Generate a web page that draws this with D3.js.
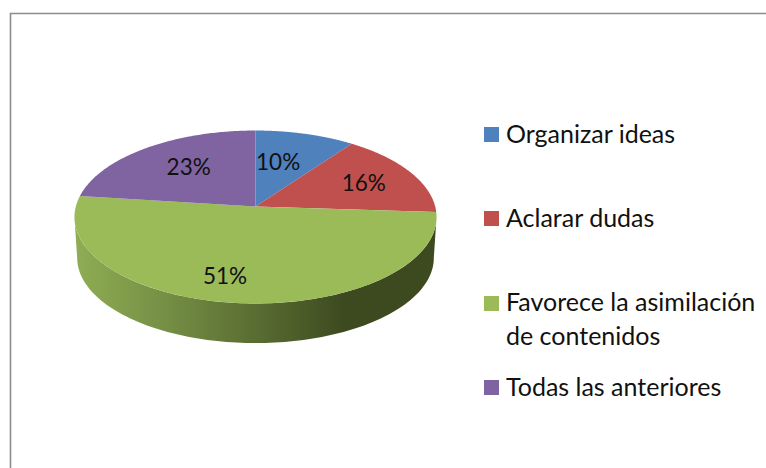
<!DOCTYPE html>
<html>
<head>
<meta charset="utf-8">
<script src="https://cdnjs.cloudflare.com/ajax/libs/d3/7.8.5/d3.min.js"></script>
<style>html,body{margin:0;padding:0;background:#fff}svg{display:block}</style>
</head>
<body>
<svg id="chart" width="766" height="468"></svg>
<script>
const categories = ["Organizar ideas", "Aclarar dudas", "Favorece la asimilación de contenidos", "Todas las anteriores"];
const legendLines = [["Organizar ideas"], ["Aclarar dudas"], ["Favorece la asimilación", "de contenidos"], ["Todas las anteriores"]];
const values = [10, 16, 51, 23];
const colors = ["#4F81BD", "#C0504D", "#9BBB59", "#8064A2"];
const labelNudge = [[-10, 3], [9, -1], [-19, 12], [4, -1]];
const legendSquareY = [127, 211, 296, 380];
const legendBaselines = [[143], [227], [311, 345], [396]];

const svg = d3.select("#chart");
const tilt = -0.1214, cx = 255.5, cy = 206.5, halfW = 179.7, halfH = 85.2, depth = 41;

// Perspective projection of the disc, from angle (clockwise from top) and radial fraction.
function project(theta, f, dy = 0, s = 1) {
  const u = Math.sin(theta) * f, v = -Math.cos(theta) * f;
  const d = 1 + tilt * v;
  return [cx + s * halfW * u / d, cy + dy + s * halfH * v / d];
}
const pie = d3.pie().sort(null).value(d => d);
const arcs = pie(values);
const line = d3.line();
const sample = (a, b, dy, s) => d3.range(0, 121).map(i => project(a + (b - a) * i / 120, 1, dy, s));

const defs = svg.append("defs");
const grad = defs.append("linearGradient").attr("id", "wall")
  .attr("gradientUnits", "userSpaceOnUse").attr("x1", 75).attr("x2", 437).attr("y1", 0).attr("y2", 0);
grad.append("stop").attr("offset", "0").attr("stop-color", "#8FAD53");
grad.append("stop").attr("offset", "0.25").attr("stop-color", "#758F45");
grad.append("stop").attr("offset", "0.6").attr("stop-color", "#4E5F2A");
grad.append("stop").attr("offset", "0.74").attr("stop-color", "#3D4A20");
grad.append("stop").attr("offset", "1").attr("stop-color", "#3D4A20");

// Frame: top and left only
svg.append("path").attr("d", "M10.5,468V13.5H766").attr("fill", "none").attr("stroke", "#8C8C8C").attr("stroke-width", 1.6);

// Side wall: visible between the two tangent points of the projected disc
const wallStart = Math.acos(tilt), wallEnd = 2 * Math.PI - wallStart;
svg.append("path")
  .attr("d", line(sample(wallStart, wallEnd, 0, 1).concat(sample(wallEnd, wallStart, depth, 0.985))) + "Z")
  .attr("fill", "url(#wall)");

// Top surface
svg.selectAll("path.slice").data(arcs).join("path").attr("class", "slice")
  .attr("d", d => line([project(0, 0)].concat(sample(d.startAngle, d.endAngle, 0, 1))) + "Z")
  .attr("fill", (d, i) => colors[i]);

// Data labels
const font = "Lato, 'Open Sans', sans-serif";
svg.selectAll("text.lab").data(arcs).join("text").attr("class", "lab")
  .attr("x", (d, i) => project((d.startAngle + d.endAngle) / 2, 0.63)[0] + labelNudge[i][0])
  .attr("y", (d, i) => project((d.startAngle + d.endAngle) / 2, 0.63)[1] + labelNudge[i][1] + 8)
  .attr("text-anchor", "middle").attr("font-family", font).attr("font-size", 22.5).attr("fill", "#111")
  .text(d => d.value + "%");

// Legend
categories.forEach((c, i) => {
  svg.append("rect").attr("x", 484).attr("y", legendSquareY[i]).attr("width", 15).attr("height", 15).attr("fill", colors[i]);
  legendLines[i].forEach((t, j) => {
    svg.append("text").attr("x", 506).attr("y", legendBaselines[i][j])
      .attr("font-family", font).attr("font-size", 25).attr("fill", "#111").text(t);
  });
});
</script>
</body>
</html>
